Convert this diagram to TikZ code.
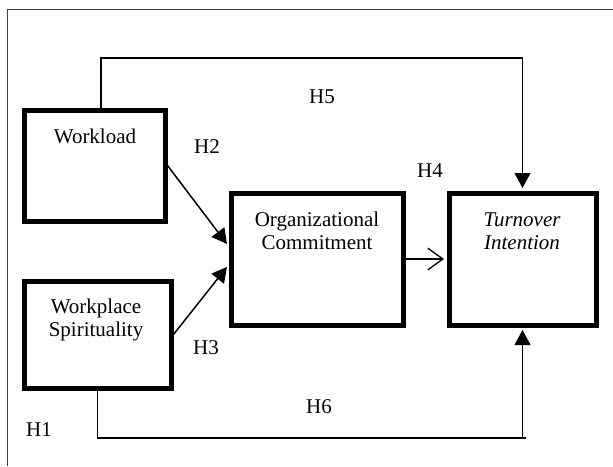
\documentclass[tikz,border=0pt]{standalone}
\usepackage{fontspec}
\setmainfont{Liberation Serif}
\usetikzlibrary{arrows.meta,positioning,calc}
\begin{document}
\begin{tikzpicture}[x=0.6pt,y=-0.6pt,
  box/.style={draw,line width=3pt,inner sep=0pt},
  arr/.style={line width=0.9pt,shorten >=1.5pt,-{Triangle[length=9pt,width=9.5pt]}},
  openarr/.style={line width=0.8pt,shorten >=1.5pt,-{Straight Barb[length=9pt,width=13pt]}},
  txt/.style={font=\fontsize{12.6}{14}\selectfont,align=center,inner sep=0pt}]
         \useasboundingbox (0,0) rectangle (613,466);
         \draw[line width=0.6pt,black!75] (7,466) -- (7,9) -- (613,9);
         \node[box,minimum width=84.6pt,minimum height=66.6pt] (wl) at (94.5,165.5) {};
         \node[box,minimum width=88.2pt,minimum height=64.2pt] (ws) at (97.5,334.5) {};
         \node[box,minimum width=103.2pt,minimum height=79.2pt] (oc) at (317,259) {};
         \node[box,minimum width=88.2pt,minimum height=79.2pt] (ti) at (522.5,259) {};
         \node[txt] (wltext) at (95,136) {Workload};
         \node[txt] (wstext) at (96,320) {Workplace\\Spirituality};
         \node[txt] (octext) at (317,231) {Organizational\\Commitment};
         \node[txt] (titext) at (522,231) {\itshape Turnover\\\itshape Intention};
         \node[txt] (h1) at (39,430) {H1};
         \node[txt] (h2) at (207,147) {H2};
         \node[txt] (h3) at (206,348) {H3};
         \node[txt] (h4) at (430,171) {H4};
         \node[txt] (h5) at (322,97) {H5};
         \node[txt] (h6) at (319,407) {H6};
         \coordinate (h5top) at (101,58);
         \coordinate (h6end) at (526,438);
         \draw[arr] (wl.north -| h5top) -- (h5top) -| (ti.north);
         \draw[line width=0.8pt] (ws.south) |- (h6end);
         \draw[arr] (ti.south |- h6end) -- (ti.south);
         \draw[arr] (wl.east) -- ($(oc.west)+(0,-13)$);
         \draw[arr] (ws.east) -- ($(oc.west)+(0,6)$);
         \draw[openarr] (oc.east) -- (ti.west);
\end{tikzpicture}
\end{document}
